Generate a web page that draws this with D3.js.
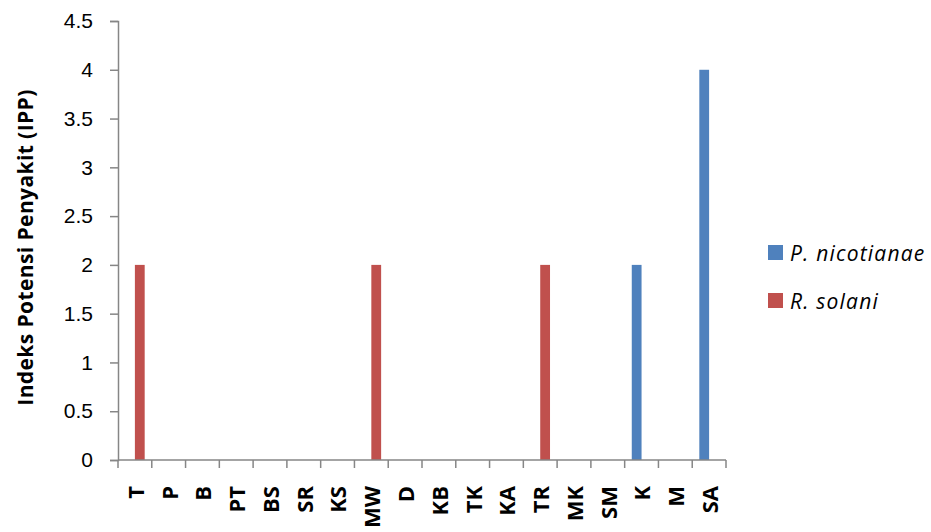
<!DOCTYPE html>
<html>
<head>
    <title>Indeks Potensi Penyakit</title>
    <script src="https://d3js.org/d3.v7.min.js"></script>
    <style>
        body { margin: 0; background: #fff; font-family: "Open Sans", sans-serif; }
        .axis path, .axis line { stroke: #868686; stroke-width: 1.5px; }
        .axis text { fill: #000; }
    </style>
</head>
<body>
<div id="chart"></div>
<script>
    const categories = ["T", "P", "B", "PT", "BS", "SR", "KS", "MW", "D", "KB", "TK", "KA", "TR", "MK", "SM", "K", "M", "SA"];
    const seriesNames = ["P. nicotianae", "R. solani"];
    const pNicotianae = [0, 0, 0, 0, 0, 0, 0, 0, 0, 0, 0, 0, 0, 0, 0, 2, 0, 4];
    const rSolani =     [2, 0, 0, 0, 0, 0, 0, 2, 0, 0, 0, 0, 2, 0, 0, 0, 0, 0];
    const yTicks = [0, 0.5, 1, 1.5, 2, 2.5, 3, 3.5, 4, 4.5];
    const colors = ["#4F81BD", "#C0504D"];

    const width = 931, height = 532;
    const margin = { top: 21, right: 205, bottom: 72, left: 118 };
    const innerW = 726 - margin.left;
    const innerH = 460 - margin.top;

    const svg = d3.select("#chart").append("svg")
        .attr("width", width)
        .attr("height", height);

    const g = svg.append("g").attr("transform", `translate(${margin.left},${margin.top})`);

    const x0 = d3.scaleBand().domain(categories).range([0, innerW])
        .paddingInner(0.42).paddingOuter(0.21);
    const x1 = d3.scaleBand().domain(seriesNames).range([0, x0.bandwidth()]);
    const y = d3.scaleLinear().domain([0, 4.5]).range([innerH, 0]);

    const rows = categories.map((c, i) => ({ cat: c, values: [pNicotianae[i], rSolani[i]] }));

    // bars
    const groups = g.append("g").selectAll("g")
        .data(rows)
        .enter().append("g")
        .attr("transform", d => `translate(${x0(d.cat)},0)`);

    groups.selectAll("rect")
        .data(d => d.values.map((v, i) => ({ name: seriesNames[i], value: v, i: i })))
        .enter().append("rect")
        .attr("x", d => x1(d.name))
        .attr("width", x1.bandwidth())
        .attr("y", d => y(d.value))
        .attr("height", d => innerH - y(d.value))
        .attr("fill", d => colors[d.i]);

    // y axis
    const yAxis = g.append("g")
        .attr("class", "axis")
        .call(d3.axisLeft(y).tickValues(yTicks).tickSize(8).tickPadding(17).tickFormat(d3.format("")));
    yAxis.selectAll("text").style("font-size", "21px");

    // x axis: ticks at category boundaries
    const xAxis = g.append("g")
        .attr("class", "axis")
        .attr("transform", `translate(0,${innerH})`);
    xAxis.append("line").attr("x1", 0).attr("x2", innerW).attr("y1", 0).attr("y2", 0);
    const step = x0.step();
    xAxis.selectAll("line.tick")
        .data(d3.range(categories.length + 1))
        .enter().append("line")
        .attr("class", "tick")
        .attr("x1", i => i * step).attr("x2", i => i * step)
        .attr("y1", 0).attr("y2", 8);
    xAxis.selectAll("text")
        .data(categories)
        .enter().append("text")
        .attr("transform", d => `translate(${x0(d) + x0.bandwidth() / 2 + 1},26) rotate(-90)`)
        .attr("text-anchor", "end")
        .attr("dy", "0.36em")
        .style("font-size", "22px")
        .style("font-weight", "bold")
        .text(d => d);

    // y axis title
    svg.append("text")
        .attr("transform", `translate(25,${margin.top + innerH / 2 + 7}) rotate(-90)`)
        .attr("text-anchor", "middle")
        .attr("dy", "0.36em")
        .style("font-size", "21px")
        .style("font-weight", "bold")
        .style("letter-spacing", "0.4px")
        .text("Indeks Potensi Penyakit (IPP)");

    // legend
    const legend = svg.append("g").attr("transform", "translate(768,245)");
    const item = legend.selectAll("g")
        .data(seriesNames)
        .enter().append("g")
        .attr("transform", (d, i) => `translate(0,${i * 48})`);
    item.append("rect").attr("width", 15).attr("height", 15).attr("fill", (d, i) => colors[i]);
    item.append("text")
        .attr("x", 22).attr("y", 8)
        .attr("dy", "0.36em")
        .style("font-size", "21px")
        .style("font-style", "italic")
        .style("letter-spacing", "1.2px")
        .text(d => d);
</script>
</body>
</html>
